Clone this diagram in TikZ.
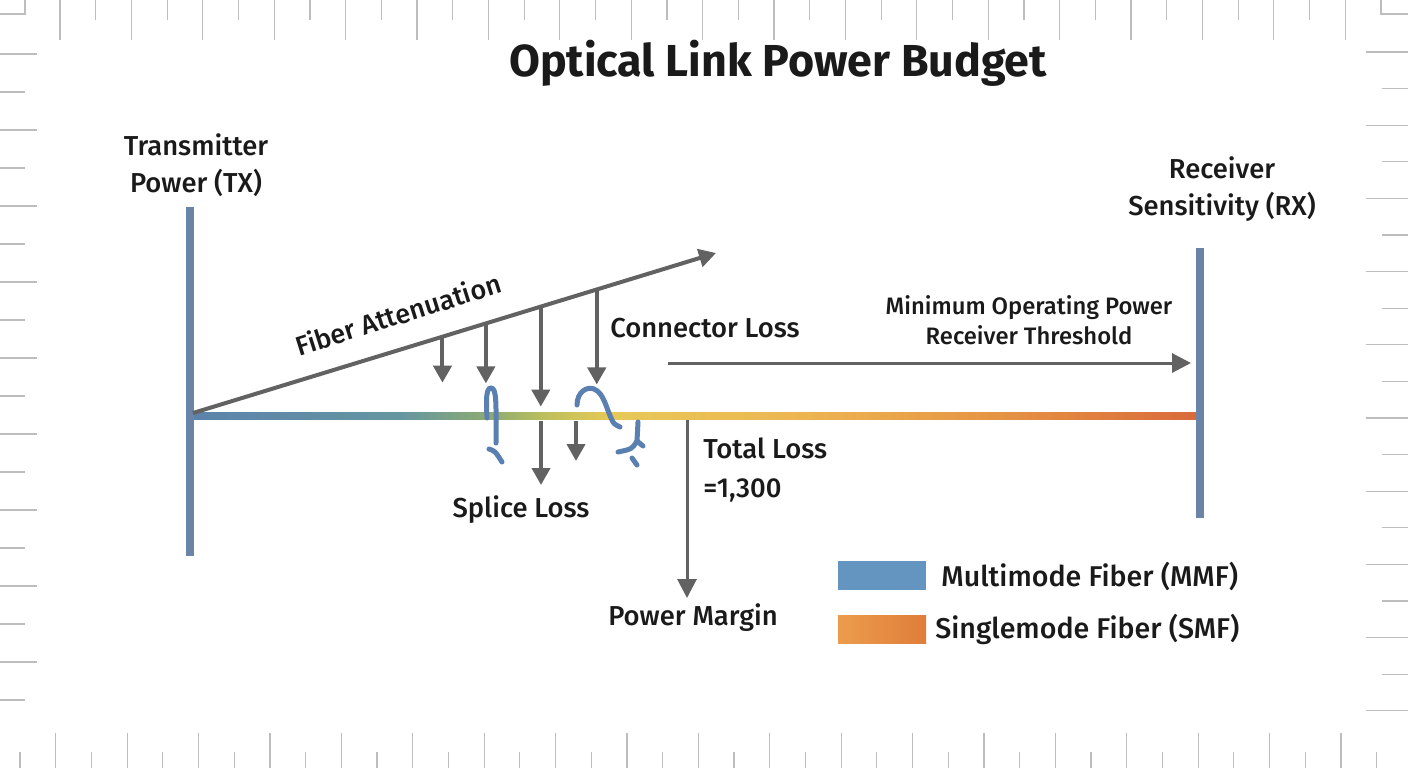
\documentclass[tikz,border=0pt]{standalone}
\usepackage{fontspec}
\setmainfont{Fira Sans}[UprightFont=* Medium, BoldFont=* Bold]
\usetikzlibrary{arrows.meta,calc}
\definecolor{barblue}{HTML}{6A84A8}
\definecolor{arrgray}{HTML}{626262}
\definecolor{txt}{HTML}{1A1A1A}
\definecolor{squig}{HTML}{5A80B2}
\definecolor{tickgray}{HTML}{BDBDBD}
\definecolor{fb1}{HTML}{5B82AA}
\definecolor{fb2}{HTML}{6596A0}
\definecolor{fb3}{HTML}{8DAA72}
\definecolor{fb4}{HTML}{BDBF5C}
\definecolor{fb5}{HTML}{E6C957}
\definecolor{fb6}{HTML}{EDB552}
\definecolor{fb7}{HTML}{E69343}
\definecolor{fb8}{HTML}{D96A3A}
\definecolor{legblue}{HTML}{6494C0}
\definecolor{legor1}{HTML}{EC9C4C}
\definecolor{legor2}{HTML}{DF7E3A}
\pgfdeclarehorizontalshading{fibershade}{100bp}{color(0bp)=(fb1); color(25bp)=(fb1); color(35.4bp)=(fb2); color(39.9bp)=(fb3); color(42.6bp)=(fb4); color(45.8bp)=(fb5); color(55.3bp)=(fb6); color(65.2bp)=(fb7); color(75bp)=(fb8); color(100bp)=(fb8)}
\begin{document}
\begin{tikzpicture}[x=0.5pt,y=-0.5pt,
  tick/.style={draw=tickgray, line width=0.6pt},
  bar/.style={draw=barblue, line width=4pt},
  arr/.style={draw=arrgray, line width=2pt, -{Triangle[width=9pt,length=8.5pt]}},
  thinarr/.style={draw=arrgray, line width=1.5pt, -{Triangle[width=9.5pt,length=9.5pt]}},
  squiggle/.style={draw=squig, line width=2.5pt, line cap=round},
  lbl/.style={text=txt, font=\fontsize{13.7}{18.5}\selectfont, inner sep=0pt},
  smalllbl/.style={text=txt, font=\fontsize{11.9}{15}\selectfont, inner sep=0pt, align=center},
  leglbl/.style={text=txt, font=\fontsize{14.3}{18}\selectfont, inner sep=0pt, anchor=west}]
\useasboundingbox (0,0) rectangle (1408,768);
\fill[white] (0,0) rectangle (1408,768);
% border ruler ticks
\foreach \i in {0,...,36} {
  \pgfmathsetmacro\xx{60+35.7*\i}
  \pgfmathsetmacro\ll{mod(\i,2)==0 ? 40 : 20}
  \draw[tick] (\xx,0) -- (\xx,\ll);
}
\foreach \i in {0,...,38} {
  \pgfmathsetmacro\xx{20+35.7*\i}
  \pgfmathsetmacro\ll{mod(\i,2)==0 ? 16 : 35}
  \draw[tick] (\xx,768) -- (\xx,768-\ll);
}
\foreach \i in {0,...,17} {
  \pgfmathsetmacro\yy{54+38*\i}
  \pgfmathsetmacro\ll{mod(\i,2)==0 ? 37 : 25}
  \draw[tick] (0,\yy) -- (\ll,\yy);
}
\foreach \i in {0,...,18} {
  \pgfmathsetmacro\yy{52+36.6*\i}
  \pgfmathsetmacro\ll{mod(\i,2)==0 ? 42 : 26}
  \draw[tick] (1408,\yy) -- (1408-\ll,\yy);
}
\draw[tick] (0,14) -- (25,14) -- (25,0);
\draw[tick] (1408,14) -- (1381,14) -- (1381,0);

% title
\node[text=txt, font=\bfseries\fontsize{22.4}{26}\selectfont] (title) at (778,63) {Optical Link Power Budget};

% fiber line and end bars
\shade[shading=fibershade] (190,412.5) rectangle (1197,419.5);
\coordinate (txtop) at (190,207);
\coordinate (txbot) at (190,556);
\coordinate (rxtop) at (1200,248);
\coordinate (rxbot) at (1200,518);
\draw[bar] (txtop) -- (txbot);
\draw[bar] (rxtop) -- (rxbot);

\node[lbl, align=center] (txlbl) at (196,165.5) {Transmitter\\Power (TX)};
\node[lbl, align=center] (rxlbl) at (1222,189) {Receiver\\Sensitivity (RX)};

% fiber attenuation
\coordinate (attA) at (193,413);
\coordinate (attB) at (716,253);
\draw[arr] (attA) -- (attB);
\node[lbl, font=\fontsize{13.5}{16}\selectfont, rotate=17.5] (attlbl) at (398,314) {Fiber Attenuation};

\coordinate (d1) at ($(attA)!0.477!(attB)$);
\coordinate (d2) at ($(attA)!0.560!(attB)$);
\coordinate (d3) at ($(attA)!0.665!(attB)$);
\coordinate (d4) at ($(attA)!0.772!(attB)$);
\draw[arr] (d1) -- ++(0,46);
\draw[arr] (d2) -- ++(0,60);
\draw[arr] (d3) -- ++(0,100);
\draw[arr] (d4) -- ++(0,95);

\coordinate (b1) at (541,421);
\coordinate (b2) at (576,421);
\draw[arr] (b1) -- ++(0,64);
\draw[arr] (b2) -- ++(0,40);

% splice / connector symbols
\draw[squiggle] (487,418) .. controls (486,400) and (486,388) .. (491,388) .. controls (497,388) and (496,405) .. (496,443);
\draw[squiggle] (489,449) .. controls (495,451) .. (502,462);
\draw[squiggle] (577,405) .. controls (577,392) and (587,386) .. (594,389) .. controls (604,393) and (606,408) .. (612,420) .. controls (614,424) .. (620,427);
\draw[squiggle] (638,422) -- (637,441);
\draw[squiggle] (637,441) .. controls (632,449) .. (618,452);
\draw[squiggle] (637,441) -- (643,446);
\draw[squiggle] (632,458) -- (637,465);

% labels around the link
\node[lbl] (conlbl) at (705,328) {Connector Loss};
\node[lbl] (splbl) at (521,510) {Splice Loss};
\node[lbl, anchor=west] (totlbl) at (703,448) {Total Loss};
\node[lbl, anchor=west] (totval) at (703,490) {=1,300};
\node[lbl] (pmlbl) at (693,618) {Power Margin};
\node[smalllbl] (minlbl) at (1029,320) {Minimum Operating Power\\Receiver Threshold};

\coordinate (pmtop) at (687,420);
\coordinate (pmend) at (687,598);
\draw[thinarr] (pmtop) -- (pmend);
\coordinate (minstart) at (668,363);
\coordinate (minend) at (1191,363);
\draw[thinarr] (minstart) -- (minend);

% legend
\fill[legblue] (838,561) rectangle (926,590);
\shade[left color=legor1, right color=legor2] (838,615) rectangle (926,643);
\node[leglbl] (mmf) at (941,576) {Multimode Fiber (MMF)};
\node[leglbl] (smf) at (935,629) {Singlemode Fiber (SMF)};
\end{tikzpicture}
\end{document}
